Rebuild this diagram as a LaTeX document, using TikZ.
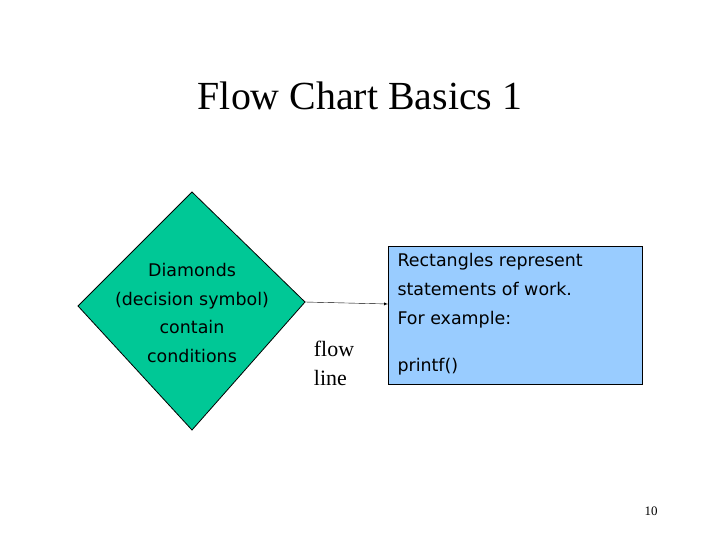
\documentclass[tikz,border=0pt]{standalone}
\usepackage{fontspec}
\setmainfont{Liberation Serif}
\newfontfamily\vsans{DejaVu Sans}
\definecolor{dgreen}{RGB}{0,200,150}
\definecolor{rblue}{RGB}{153,204,255}
\begin{document}
\begin{tikzpicture}[x=1bp,y=-1bp,
  sans/.style={font=\vsans\fontsize{17.5}{29}\selectfont},
  serif/.style={font=\fontsize{22}{29}\selectfont}]
\useasboundingbox (0,0) rectangle (720,540);
\node[font=\fontsize{40}{44}\selectfont] (title) at (360,96) {Flow Chart Basics 1};
\draw[fill=dgreen,thick] (192,192) coordinate (dt) -- (305,302) coordinate (dr) -- (192,430) -- (78,306) coordinate (dl) -- cycle;
\node[sans,align=center] (dtext) at (192,313) {Diamonds\\(decision symbol)\\contain\\conditions};
\node[draw,thick,fill=rblue,minimum width=254bp,minimum height=138bp,anchor=north west] (rect) at (388,246) {};
\node[sans,align=left,anchor=north west] (rtext) at (394,250) {Rectangles represent\\statements of work.\\For example:};
\node[sans,anchor=west] (ptext) at (394,367) {printf()};
\draw[-latex] (dr) -- (rect.west |- 0,304) coordinate (ae);
\node[serif,align=left] (flow) at (334,363) {flow\\line};
\node[font=\fontsize{13}{14}\selectfont] (pg) at (651,511) {10};
\end{tikzpicture}
\end{document}
